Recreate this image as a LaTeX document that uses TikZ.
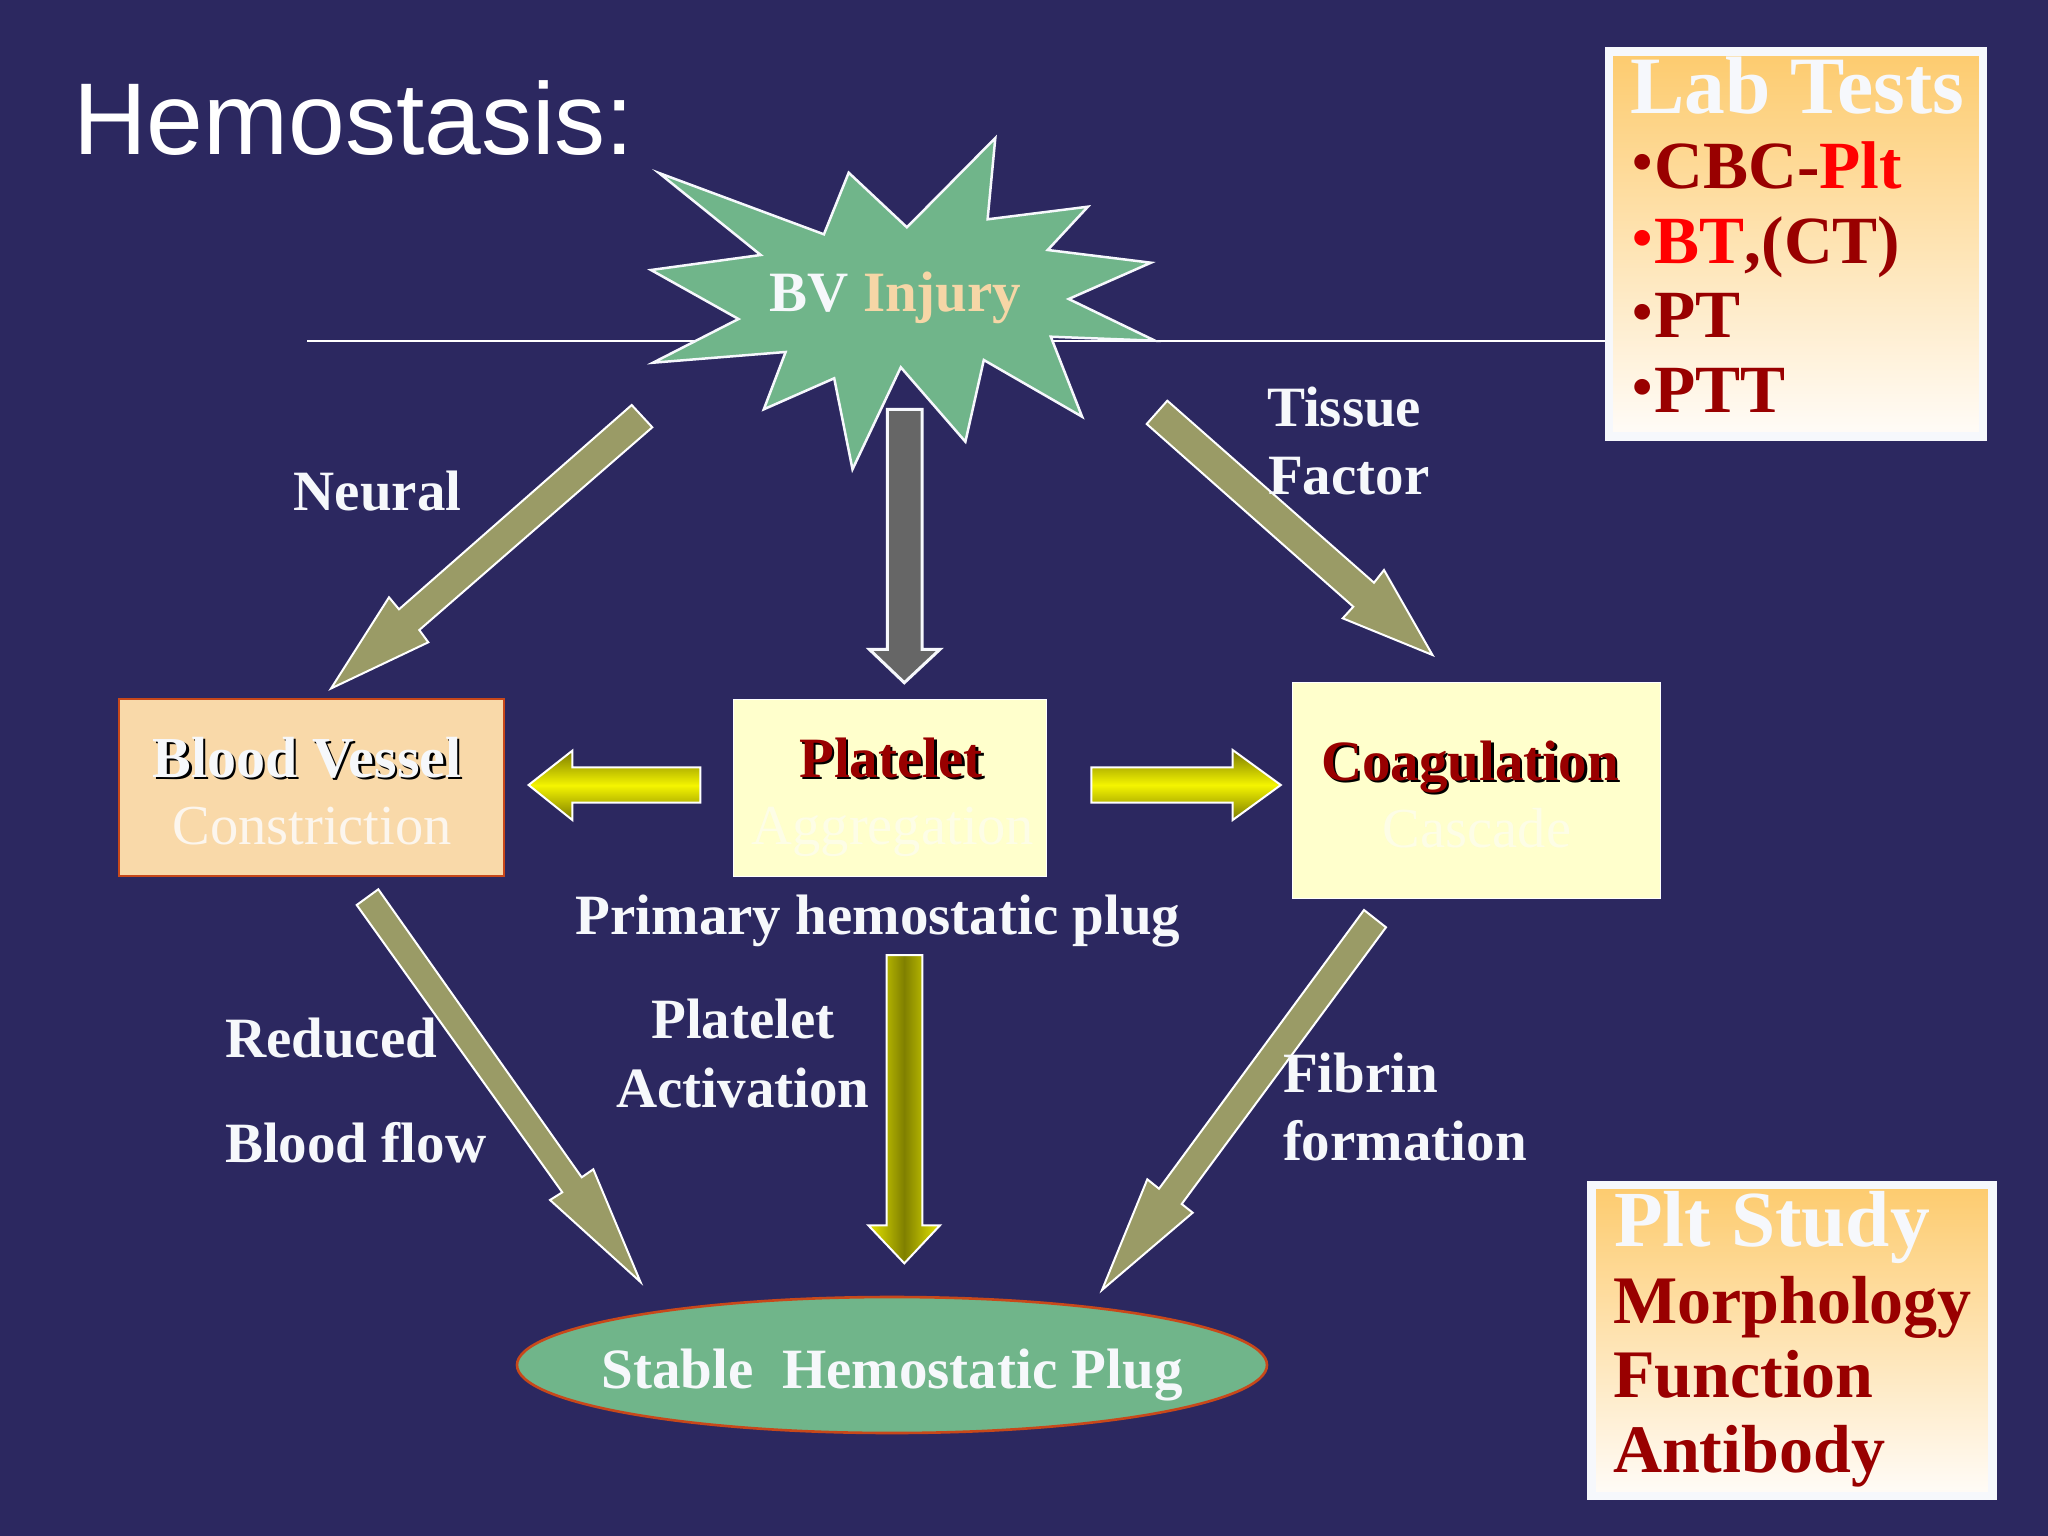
\documentclass[tikz,border=0pt]{standalone}
\usepackage{fontspec}
\setmainfont{Liberation Serif}
\newfontfamily\arialfont{Liberation Sans}
\usetikzlibrary{shapes.geometric}
\definecolor{bgblue}{HTML}{2C2860}
\definecolor{stargreen}{HTML}{70B58A}
\definecolor{olivearrow}{HTML}{9A9B66}
\definecolor{greyarrow}{HTML}{666666}
\definecolor{offwhite}{HTML}{F6F8FB}
\definecolor{injury}{HTML}{F6D6A6}
\definecolor{darkred}{HTML}{990000}
\definecolor{purered}{HTML}{FF0000}
\definecolor{peach}{HTML}{F9D9A9}
\definecolor{edgeorange}{HTML}{C8481A}
\definecolor{paleyellow}{HTML}{FFFFCC}
\definecolor{gradtop}{HTML}{FDCB6E}
\definecolor{gradbot}{HTML}{FFFCF8}
\definecolor{framewhite}{HTML}{F6F8FC}
\definecolor{ghostpeach}{HTML}{FCF6EE}
\definecolor{ghostyellow}{HTML}{FDFDE6}
\newcommand{\sz}[1]{\fontsize{#1}{#1}\selectfont}
\newcommand{\shadowed}[2]{\rlap{\kern2.5pt\raisebox{-2.5pt}{\color{black}#2}}{\color{#1}#2}}
\newcommand{\bul}{\makebox[23.6pt][c]{\raisebox{6pt}{\sz{58}•}}}
\tikzset{
  lbl/.style={inner sep=0pt,outer sep=0pt,anchor=base,text=offwhite,font=\sz{57}\bfseries},
  lbll/.style={lbl,anchor=base west},
  thin lbl/.style={inner sep=0pt,outer sep=0pt,anchor=base,font=\sz{56.5}},
  lablbl/.style={inner sep=0pt,outer sep=0pt,anchor=base west,text=darkred,font=\sz{67.5}\bfseries},
  headlbl/.style={inner sep=0pt,outer sep=0pt,anchor=base west,text=framewhite,font=\sz{79.5}\bfseries},
  olive/.style={draw=white,line width=2pt,fill=olivearrow,line join=miter},
  greyblock/.style={draw=framewhite,line width=3pt,fill=greyarrow},
  vyellow/.style={draw=white,line width=2pt,left color=yellow!90!black,right color=yellow!90!black,middle color=yellow!50!black},
  hyellow/.style={draw=white,line width=2pt,top color=yellow!48!black,bottom color=yellow!48!black,middle color=yellow!96!black},
  gradbox/.style={rectangle,inner sep=0pt,draw=framewhite,line width=8.5pt,top color=gradtop,bottom color=gradbot},
}
\begin{document}
\begin{tikzpicture}[x=1pt,y=-1pt]
\useasboundingbox (0,0) rectangle (2048,1536);
\fill[bgblue] (0,0) rectangle (2048,1536);

% Lab boxes
\node[gradbox,minimum width=374pt,minimum height=385pt] (labbox) at (1796,244) {};
\node[gradbox,minimum width=401pt,minimum height=311pt] (pltbox) at (1792,1340.5) {};

% horizontal line
\coordinate (lineL) at (307,341);
\draw[white,line width=2.2pt] (lineL) -- (labbox.west |- lineL);

% title
\node[inner sep=0pt,anchor=base west,text=white,font=\arialfont\sz{102}] (title) at (73,154.5) {Hemostasis:};

% star
\draw[draw=framewhite,line width=2.5pt,fill=stargreen,line join=miter,miter limit=20]
 (659,173) -- (823.9,234.3) -- (848.7,172.7) -- (906.9,227.3) -- (995.3,138)
 -- (987.6,219.3) -- (1087.9,206.7) -- (1047.7,250) -- (1151,262.7) -- (1068.7,299)
 -- (1155,340.7) -- (1050.8,336.7) -- (1082.1,416.7) -- (983.8,360) -- (965.4,441.7)
 -- (900.8,367.3) -- (852.5,469.3) -- (834.2,378.3) -- (763.8,409.3) -- (785.6,352)
 -- (653,362.7) -- (738.5,319) -- (651,270) -- (760.7,255) -- cycle;
\node[lbl] (injurylbl) at (895.5,311.7) {BV {\color{injury}Injury}};

% block arrows
\draw[olive,miter limit=20] (631.7,405) -- (652.3,427.3) -- (419.3,630) -- (428.3,642.3) -- (331,688.5) -- (389,597.3) -- (399,609.3) -- cycle;
\draw[olive,miter limit=20] (1167.3,400.7) -- (1146.7,424) -- (1353.3,606.7) -- (1342.7,618.3) -- (1432.5,655) -- (1384,570) -- (1374,582.7) -- cycle;
\draw[olive,miter limit=20] (378.3,889.3) -- (356.7,905) -- (562.3,1192.3) -- (550,1200) -- (640.5,1282) -- (593.3,1169.3) -- (581.7,1177.3) -- cycle;
\draw[olive,miter limit=20] (1364,910) -- (1386,927.3) -- (1181.7,1204) -- (1192.7,1212.7) -- (1102,1290) -- (1147.3,1179.3) -- (1159,1188.7) -- cycle;
\draw[greyblock] (887.3,409.3) -- (922,409.3) -- (922,649.3) -- (940,649.3) -- (904.3,682.7) -- (869.3,649.3) -- (887.3,649.3) -- cycle;
\draw[vyellow] (886.7,955) -- (922.3,955) -- (922.3,1225.3) -- (940,1225.3) -- (904.3,1263.3) -- (868.3,1225.3) -- (886.7,1225.3) -- cycle;
\draw[hyellow] (700.4,767.3) -- (572.3,767.3) -- (572.3,750.7) -- (528.6,785) -- (572.3,820) -- (572.3,802.7) -- (700.4,802.7) -- cycle;
\draw[hyellow] (1091.4,767.3) -- (1232.7,767.3) -- (1232.7,750) -- (1280.8,785) -- (1232.7,820) -- (1232.7,802.7) -- (1091.4,802.7) -- cycle;

% middle boxes
\node[rectangle,draw=edgeorange,line width=2.6pt,fill=peach,minimum width=385pt,minimum height=177pt,inner sep=0pt] (bvbox) at (311.5,787.5) {};
\node[rectangle,draw=white,line width=1pt,fill=paleyellow,minimum width=313pt,minimum height=177pt,inner sep=0pt] (plbox) at (889.5,787.5) {};
\node[rectangle,draw=white,line width=1pt,fill=paleyellow,minimum width=368pt,minimum height=216pt,inner sep=0pt] (cobox) at (1476,790) {};

\node[lbl,font=\sz{58}\bfseries] (bvlbl) at (307,777) {\shadowed{offwhite}{Blood Vessel}};
\node[thin lbl,text=ghostpeach] (bvlbl2) at (312,844) {Constriction};
\node[lbl] (pllbl) at (891,777) {\shadowed{darkred}{Platelet}};
\node[thin lbl,text=ghostyellow] (pllbl2) at (893,844) {Aggregation};
\node[lbl] (colbl) at (1470,780) {\shadowed{darkred}{Coagulation}};
\node[thin lbl,text=ghostyellow] (colbl2) at (1477,847) {Cascade};

% ellipse
\node[ellipse,draw=edgeorange,line width=2.6pt,fill=stargreen,minimum width=750pt,minimum height=136pt,inner sep=0pt] (plug) at (892,1365) {};
\node[lbl] (pluglbl) at (892,1388) {Stable\ \ Hemostatic Plug};

% labels
\node[lbl] (neural) at (377.5,510.7) {Neural};
\node[lbll] (tissue) at (1266,426.5) {\kern1pt Tissue};
\node[lbll] (factor) at (1268,494) {Factor};
\node[lbl] (primary) at (878,934.5) {Primary hemostatic plug};
\node[lbl] (plat) at (743,1038) {Platelet};
\node[lbl] (activ) at (743,1107) {Activation};
\node[lbll] (reduced) at (225,1057) {Reduced};
\node[lbll] (bflow) at (225,1162) {Blood flow};
\node[lbll] (fibrin) at (1283,1092.5) {Fibrin};
\node[lbll] (forma) at (1283,1160) {formation};

% lab tests
\node[headlbl,font=\sz{81.5}\bfseries] (labhead) at (1630,114) {Lab Tests};
\node[lablbl] (lab1) at (1631,188) {\bul CBC-{\color{purered}Plt}};
\node[lablbl] (lab2) at (1631,263) {{\color{purered}\bul BT},(CT)};
\node[lablbl] (lab3) at (1631,337) {\bul PT};
\node[lablbl] (lab4) at (1631,412) {\bul PTT};

% plt study
\node[headlbl] (plthead) at (1614,1246) {Plt Study};
\node[lablbl,font=\sz{68}\bfseries] (plt1) at (1613,1323) {Morphology};
\node[lablbl,font=\sz{68}\bfseries] (plt2) at (1613,1397.5) {Function};
\node[lablbl,font=\sz{68}\bfseries] (plt3) at (1613,1472) {Antibody};
\end{tikzpicture}
\end{document}
